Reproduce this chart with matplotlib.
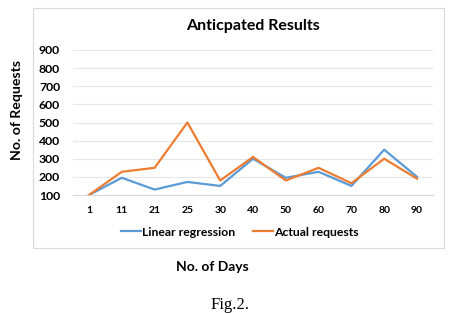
import matplotlib
matplotlib.use("Agg")
import matplotlib.pyplot as plt
from matplotlib.patches import Rectangle

days = ["1", "11", "21", "25", "30", "40", "50", "60", "70", "80", "90"]
linear_regression = [100, 195, 130, 172, 150, 300, 195, 228, 150, 350, 200]
actual_requests = [100, 228, 250, 500, 180, 310, 180, 250, 165, 300, 190]
y_ticks = [100, 200, 300, 400, 500, 600, 700, 800, 900]

W, H = 459, 314
fig = plt.figure(figsize=(W / 100, H / 100), dpi=100)
fig.patch.set_facecolor("white")

font = "Lato"

# chart box
fig.patches.append(Rectangle((33 / W, 1 - 248 / H), (444 - 33) / W, (248 - 8) / H,
                             transform=fig.transFigure, fill=False,
                             edgecolor="#d9d9d9", linewidth=0.8))

ax = fig.add_axes([72.6 / W, 1 - 195 / H, (433.4 - 72.6) / W, (195 - 50) / H])
x = list(range(len(days)))
ax.plot(x, linear_regression, color="#5B9BD5", linewidth=1.6, label="Linear regression")
ax.plot(x, actual_requests, color="#ED7D31", linewidth=1.6, label="Actual requests")
ax.set_xlim(-0.5, len(days) - 0.5)
ax.set_ylim(100, 900)
ax.set_yticks(y_ticks)
ax.set_xticks(x)
ax.set_xticklabels(days)
ax.grid(axis="y", color="#e6e6e6", linewidth=0.8)
ax.set_axisbelow(True)
for s in ["top", "right", "left"]:
    ax.spines[s].set_visible(False)
ax.spines["bottom"].set_color("#d9d9d9")
ax.tick_params(axis="y", length=0, labelsize=8.8, pad=9)
ax.tick_params(axis="x", length=0, labelsize=7.5, pad=8)
for lab in ax.get_xticklabels() + ax.get_yticklabels():
    lab.set_fontfamily(font)
    lab.set_fontweight("bold")

fig.text(253 / W, 1 - 26 / H, "Anticpated Results", ha="center", va="center",
         fontsize=11.5, fontweight="bold", family=font)
fig.text(17 / W, 1 - 110 / H, "No. of Requests", ha="center", va="center",
         rotation=90, fontsize=10.2, fontweight="bold", family=font)
fig.text(212 / W, 1 - 267 / H, "No. of Days", ha="center", va="center",
         fontsize=10, fontweight="bold", family=font)
fig.text(230 / W, 1 - 305 / H, "Fig.2.", ha="center", va="center",
         fontsize=12, family="Liberation Serif")

leg = fig.legend(loc="center", bbox_to_anchor=(240 / W, 1 - 232 / H), ncol=2,
                 frameon=False, handlelength=1.6, handletextpad=0.1,
                 columnspacing=1.5, prop={"family": font, "weight": "bold", "size": 8.8})
for line in leg.get_lines():
    line.set_linewidth(1.6)

fig.savefig("out.png", dpi=100)
